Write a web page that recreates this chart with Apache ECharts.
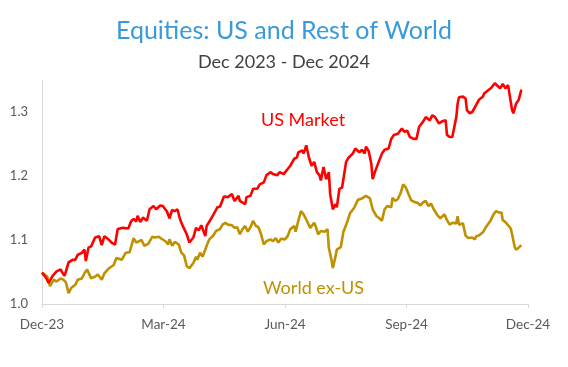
<!DOCTYPE html>
<html>
<head>
<meta charset="utf-8">
<script src="https://cdn.jsdelivr.net/npm/echarts@6/dist/echarts.min.js"></script>
<style>
html,body{margin:0;padding:0;background:#fff;}
#chart{width:568px;height:367px;}
</style>
</head>
<body>
<div id="chart"></div>
<script>
// Days since 2023-12-01
const tickLabels = ['Dec-23', 'Mar-24', 'Jun-24', 'Sep-24', 'Dec-24'];

const usDays = [0,3,5,8,11,14,15,17,20,23,25,27,30,32,33,35,37,40,43,45,47,50,53,55,57,61,65,67,69,71,72,74,76,79,81,84,86,89,91,94,96,98,100,102,104,106,109,111,114,116,118,120,123,124,127,130,132,134,137,140,143,145,148,149,153,154,157,159,162,164,167,169,172,174,177,179,182,185,187,190,192,193,196,197,199,201,203,205,207,209,210,212,214,216,217,219,221,222,224,226,229,231,234,236,239,241,243,244,246,248,249,251,253,256,258,261,263,265,268,271,273,275,277,280,282,284,287,289,292,294,296,299,301,304,305,307,309,312,313,314,317,319,320,322,324,327,329,332,333,336,338,341,343,345,347,349,351,352,354,355,357,359,361];
const usValues = [1.049,1.041,1.033,1.044,1.051,1.054,1.050,1.044,1.065,1.069,1.069,1.077,1.080,1.085,1.067,1.088,1.090,1.104,1.106,1.092,1.106,1.101,1.095,1.093,1.117,1.119,1.118,1.129,1.133,1.129,1.138,1.128,1.135,1.130,1.148,1.153,1.148,1.154,1.153,1.145,1.134,1.147,1.145,1.148,1.132,1.122,1.109,1.096,1.104,1.119,1.115,1.123,1.106,1.122,1.132,1.143,1.151,1.152,1.168,1.167,1.172,1.161,1.169,1.161,1.156,1.167,1.169,1.180,1.180,1.187,1.190,1.201,1.206,1.203,1.201,1.206,1.203,1.211,1.216,1.227,1.229,1.237,1.240,1.235,1.248,1.229,1.216,1.222,1.206,1.201,1.193,1.214,1.195,1.206,1.172,1.148,1.156,1.151,1.180,1.182,1.222,1.229,1.235,1.243,1.237,1.241,1.235,1.246,1.239,1.219,1.195,1.208,1.219,1.235,1.241,1.243,1.258,1.264,1.266,1.274,1.269,1.271,1.261,1.258,1.258,1.277,1.285,1.292,1.287,1.295,1.292,1.282,1.285,1.287,1.264,1.261,1.261,1.292,1.313,1.323,1.324,1.321,1.303,1.298,1.300,1.311,1.319,1.324,1.329,1.334,1.337,1.345,1.341,1.337,1.344,1.337,1.342,1.340,1.303,1.298,1.313,1.319,1.335];

const worldDays = [0,4,6,9,11,14,16,18,20,22,25,27,30,32,34,37,40,42,45,47,50,54,56,60,63,66,69,71,72,75,77,80,83,85,88,90,93,95,96,98,100,103,105,107,109,111,114,116,117,119,121,124,126,129,131,134,136,138,140,143,145,147,149,151,153,155,157,159,161,163,165,167,169,172,174,176,178,180,183,185,187,190,191,193,195,197,199,200,202,205,206,208,210,213,215,216,218,219,221,222,225,227,230,232,235,238,241,244,247,249,252,254,256,258,260,263,264,266,268,270,272,274,276,278,281,283,285,287,289,291,293,295,298,300,303,305,307,309,312,313,314,317,319,321,324,326,327,329,332,334,336,338,340,342,344,346,347,349,351,353,354,356,357,359,361];
const worldValues = [1.049,1.043,1.028,1.038,1.035,1.040,1.038,1.034,1.017,1.025,1.030,1.038,1.040,1.048,1.054,1.040,1.043,1.046,1.038,1.048,1.055,1.061,1.072,1.069,1.080,1.081,1.103,1.096,1.093,1.100,1.091,1.094,1.105,1.104,1.105,1.102,1.098,1.093,1.101,1.091,1.097,1.093,1.080,1.076,1.059,1.056,1.064,1.074,1.069,1.080,1.074,1.091,1.101,1.107,1.114,1.117,1.124,1.127,1.124,1.123,1.119,1.120,1.109,1.117,1.122,1.113,1.120,1.130,1.122,1.120,1.109,1.093,1.098,1.101,1.098,1.103,1.096,1.102,1.101,1.106,1.117,1.122,1.113,1.130,1.145,1.140,1.132,1.135,1.119,1.127,1.122,1.109,1.114,1.113,1.117,1.088,1.069,1.056,1.074,1.085,1.089,1.113,1.129,1.142,1.150,1.163,1.165,1.169,1.165,1.148,1.137,1.134,1.130,1.148,1.153,1.151,1.166,1.161,1.164,1.173,1.187,1.182,1.172,1.162,1.159,1.158,1.154,1.159,1.161,1.153,1.157,1.148,1.138,1.134,1.140,1.131,1.124,1.127,1.126,1.137,1.124,1.126,1.107,1.103,1.104,1.101,1.106,1.107,1.112,1.119,1.125,1.131,1.140,1.145,1.143,1.143,1.131,1.128,1.123,1.118,1.109,1.089,1.085,1.088,1.092];

const chart = echarts.init(document.getElementById('chart'), null, {renderer: 'canvas'});
const FONT = 'Lato';
const option = {
  animation: false,
  backgroundColor: '#ffffff',
  title: [
    {text: 'Equities: US and Rest of World', left: 'center', top: 13,
     textStyle: {fontFamily: FONT, fontSize: 25, fontWeight: 'normal', color: '#3A9AD9'}},
    {text: 'Dec 2023 - Dec 2024', left: 'center', top: 48,
     textStyle: {fontFamily: FONT, fontSize: 18, fontWeight: 'normal', color: '#404040'}}
  ],
  grid: {left: 42, right: 40, top: 80, bottom: 63},
  xAxis: {
    type: 'value', min: 0, max: 366, interval: 91.5,
    axisLine: {show: true, lineStyle: {color: '#d9d9d9', width: 1}},
    axisTick: {show: true, length: 4, lineStyle: {color: '#d9d9d9'}},
    splitLine: {show: false},
    axisLabel: {
      margin: 14, color: '#595959', fontFamily: FONT, fontSize: 13.5,
      showMinLabel: true, showMaxLabel: true,
      formatter: v => tickLabels[Math.round(v / 91.5)] || ''
    }
  },
  yAxis: {
    type: 'value', min: 1.0, max: 1.35, interval: 0.1,
    axisLine: {show: true, lineStyle: {color: '#d9d9d9', width: 1}},
    axisTick: {show: false},
    splitLine: {show: false},
    axisLabel: {
      margin: 14, color: '#595959', fontFamily: FONT, fontSize: 13,
      showMaxLabel: false,
      formatter: v => v.toFixed(1)
    }
  },
  graphic: [
    {type: 'text', left: 261, top: 111,
     style: {text: 'US Market', fill: '#FF0000', font: '18px ' + FONT}},
    {type: 'text', left: 263, top: 279,
     style: {text: 'World ex-US', fill: '#BF9000', font: '18px ' + FONT}}
  ],
  series: [
    {name: 'World ex-US', type: 'line', showSymbol: false, smooth: false,
     lineStyle: {color: '#BF9000', width: 2.6},
     data: worldDays.map((d, i) => [d, worldValues[i]])},
    {name: 'US Market', type: 'line', showSymbol: false, smooth: false,
     lineStyle: {color: '#FF0000', width: 2.6},
     data: usDays.map((d, i) => [d, usValues[i]])}
  ]
};
chart.setOption(option);
</script>
</body>
</html>
